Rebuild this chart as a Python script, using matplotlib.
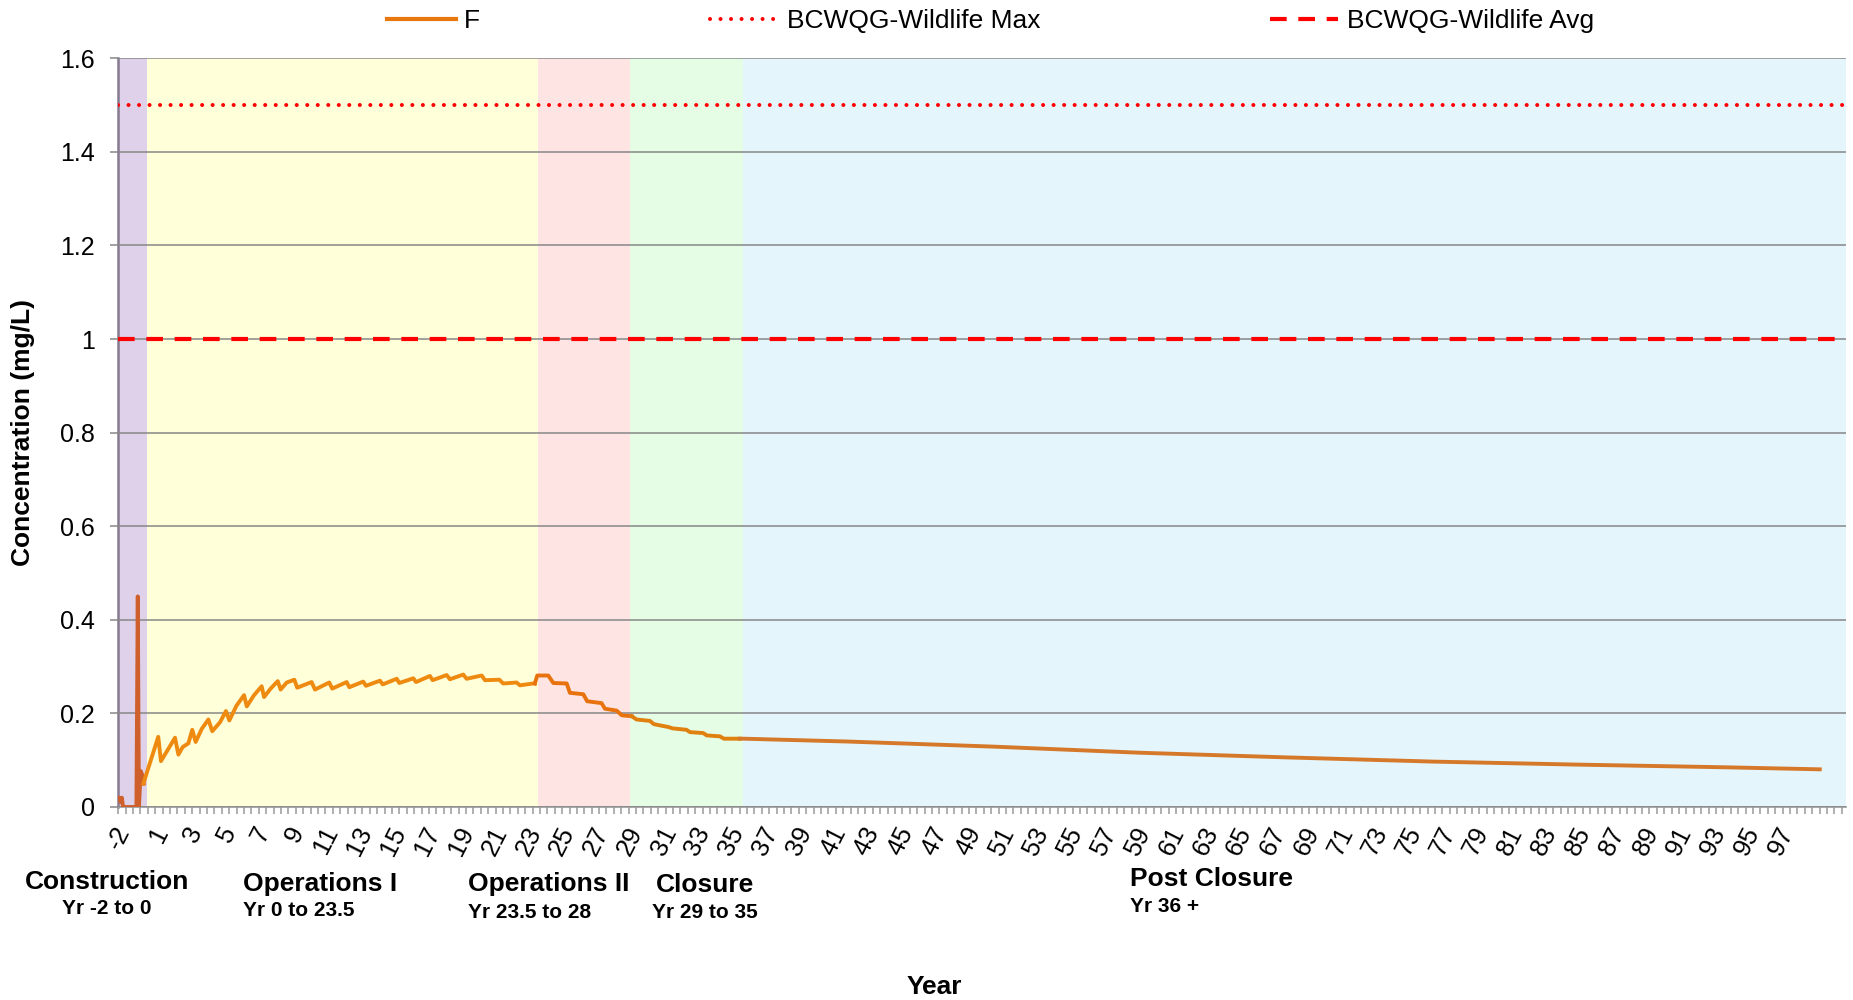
import numpy as np
import matplotlib
matplotlib.use("Agg")
import matplotlib.pyplot as plt
from matplotlib.lines import Line2D

plt.rcParams['font.family'] = ['Liberation Sans', 'DejaVu Sans']

# ---------------- data (x = axis position in years) ----------------
construction_x = [-1.64, -1.56, -1.48, -1.41, -1.34, -1.25, -0.55, -0.47, -0.40, -0.30, -0.22, -0.12]
construction_y = [0.020, 0.020, 0.010, 0.020, 0.000, 0.000, 0.000, 0.450, 0.000, 0.077, 0.070, 0.050]

ops1_x = [-0.14, 0.74, 0.90, 1.73, 1.93, 2.18, 2.52, 2.75, 2.95, 3.31, 3.70, 3.93, 4.39, 4.74,
          4.94, 5.37, 5.81, 5.97, 6.40, 6.85, 6.99, 7.38, 7.80, 7.97, 8.33, 8.78, 8.95, 9.80,
          10.00, 10.84, 11.02, 11.87, 12.03, 12.85, 13.01, 13.84, 14.00, 14.83, 14.98, 15.81,
          15.97, 16.79, 16.95, 17.78, 17.97, 18.76, 18.96, 19.85, 20.04, 20.89, 21.12, 21.91,
          22.11, 22.89, 22.99]
ops1_y = [0.050, 0.150, 0.098, 0.148, 0.112, 0.128, 0.136, 0.165, 0.139, 0.167, 0.187, 0.162,
          0.181, 0.205, 0.185, 0.217, 0.239, 0.215, 0.239, 0.258, 0.235, 0.253, 0.269, 0.251,
          0.266, 0.272, 0.255, 0.267, 0.251, 0.266, 0.253, 0.267, 0.256, 0.268, 0.259, 0.270,
          0.262, 0.274, 0.265, 0.275, 0.267, 0.280, 0.271, 0.282, 0.273, 0.283, 0.274, 0.281,
          0.271, 0.272, 0.264, 0.266, 0.260, 0.264, 0.264]

ops2_x = [22.99, 23.13, 23.78, 24.08, 24.87, 25.06, 25.85, 26.08, 26.93, 27.13, 27.82, 28.12, 28.71]
ops2_y = [0.264, 0.281, 0.281, 0.265, 0.264, 0.244, 0.241, 0.226, 0.222, 0.210, 0.206, 0.196, 0.194]

closure_x = [28.71, 29.00, 29.79, 30.02, 30.87, 31.13, 31.95, 32.15, 32.94, 33.14, 33.92, 34.16, 35.10]
closure_y = [0.194, 0.187, 0.184, 0.177, 0.171, 0.168, 0.165, 0.160, 0.158, 0.153, 0.151, 0.146, 0.146]

post_x = [35.10, 35.30, 41.40, 50.10, 58.70, 67.40, 76.10, 84.70, 93.40, 98.90]
post_y = [0.146, 0.146, 0.140, 0.129, 0.116, 0.106, 0.097, 0.0905, 0.0848, 0.0805]

wildlife_max = 1.5
wildlife_avg = 1.0

phase_bounds = [-1.62, 0.05, 23.15, 28.61, 35.30, 100.45]
phase_colors = ['#DFD1E9', '#FFFFDA', '#FFE4E4', '#E5FDE4', '#E4F5FC']

phase_titles = ['Construction', 'Operations I', 'Operations II', 'Closure', 'Post Closure']
phase_years = ['Yr -2 to 0', 'Yr 0 to 23.5', 'Yr 23.5 to 28', 'Yr 29 to 35', 'Yr 36 +']

tick_labels = ['-2'] + [str(v) for v in range(1, 98, 2)]
tick_pos = [-1.3] + list(range(1, 98, 2))

# ---------------- figure ----------------
W, H = 1853, 1000
fig = plt.figure(figsize=(W / 100, H / 100), dpi=100)
ax = fig.add_axes([118.3 / W, 193 / H, (1846 - 118.3) / W, (807 - 58.3) / H])

for i, c in enumerate(phase_colors):
    ax.axvspan(phase_bounds[i], phase_bounds[i + 1], color=c, lw=0, zorder=0)

ax.set_xlim(phase_bounds[0], phase_bounds[-1])
ax.set_ylim(0, 1.6)
ax.set_yticks(np.arange(0, 1.61, 0.2))
ax.set_yticklabels(['0', '0.2', '0.4', '0.6', '0.8', '1', '1.2', '1.4', '1.6'])
ax.yaxis.grid(True, color='#878787', lw=1.1, zorder=1)
ax.set_axisbelow(False)

for s in ['top', 'right']:
    ax.spines[s].set_visible(False)
ax.spines['left'].set_color('#857A90')
ax.spines['left'].set_linewidth(1.8)
ax.spines['bottom'].set_color('#999999')
ax.spines['bottom'].set_linewidth(1.2)

ax.tick_params(axis='y', length=6, width=1.1, color='#878787', labelsize=18, pad=11)
ax.set_xticks(tick_pos)
ax.set_xticklabels(tick_labels, rotation=63, ha='right', va='center', rotation_mode='anchor')
ax.tick_params(axis='x', which='major', length=0, labelsize=18.5, pad=15)
ax.set_xticks(np.arange(phase_bounds[0], phase_bounds[-1], 0.437), minor=True)
ax.tick_params(axis='x', which='minor', length=5, width=1.1, color='#999999')

# guideline lines
ax.axhline(wildlife_max, color='#FF0000', lw=2.9, linestyle=(0, (0.01, 2.6)),
           dash_capstyle='round', zorder=3)
ax.axhline(wildlife_avg, color='#FF0000', lw=3.0, linestyle=(0, (4.0, 2.8)), zorder=3)

# F series
ax.plot(construction_x, construction_y, color='#CF5F2B', lw=2.8, zorder=4, solid_joinstyle='round')
ax.plot(ops1_x, ops1_y, color='#EE8A10', lw=2.8, zorder=4, solid_joinstyle='round')
ax.plot(ops2_x, ops2_y, color='#E8730E', lw=2.8, zorder=4, solid_joinstyle='round')
ax.plot(closure_x, closure_y, color='#E0800F', lw=2.8, zorder=4, solid_joinstyle='round')
ax.plot(post_x, post_y, color='#D6782A', lw=2.8, zorder=4, solid_joinstyle='round')

ax.set_ylabel('Concentration (mg/L)', fontsize=19, fontweight='bold', labelpad=18)

# legend
handles = [Line2D([], [], color='#E8780E', lw=3),
           Line2D([], [], color='#FF0000', lw=2.9, linestyle=(0, (0.01, 2.6)), dash_capstyle='round'),
           Line2D([], [], color='#FF0000', lw=3.0, linestyle=(0, (4.0, 2.8)))]
fig.legend(handles, ['F', 'BCWQG-Wildlife Max', 'BCWQG-Wildlife Avg'], loc='center',
           bbox_to_anchor=(990.5 / W, 1 - 21 / H), ncol=3, frameon=False, fontsize=19,
           handlelength=2.6, handletextpad=0.32, columnspacing=8.7, borderpad=0)

# phase annotations (pixel placement)
title_xy = [(107, 882, 'center'), (243, 884, 'left'), (468, 884, 'left'), (656, 885, 'left'), (1130, 879, 'left')]
year_xy = [(107, 909, 'center'), (243, 911, 'left'), (468, 912, 'left'), (652, 912, 'left'), (1130, 906, 'left')]
for (x, y, ha), t in zip(title_xy, phase_titles):
    fig.text(x / W, 1 - y / H, t, fontsize=19, fontweight='bold', ha=ha, va='center')
for (x, y, ha), t in zip(year_xy, phase_years):
    fig.text(x / W, 1 - y / H, t, fontsize=15, fontweight='bold', ha=ha, va='center')

fig.text(934 / W, 1 - 987 / H, 'Year', fontsize=19, fontweight='bold', ha='center', va='center')

fig.savefig('out.png', dpi=100)
